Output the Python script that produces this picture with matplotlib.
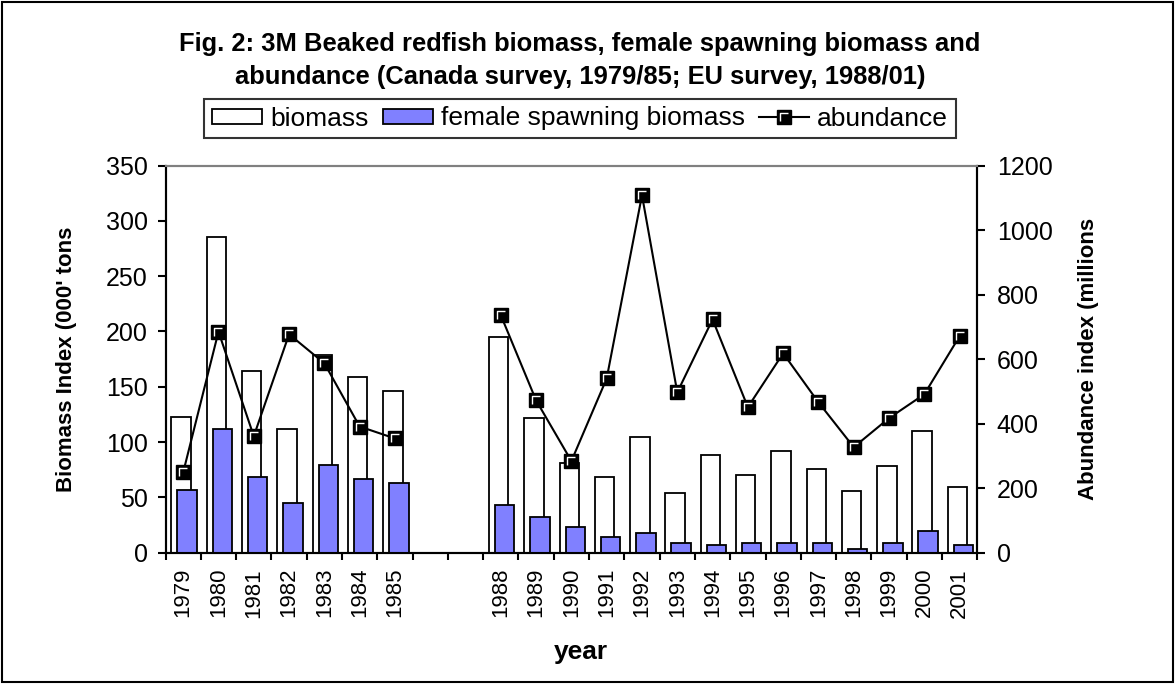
import numpy as np
import matplotlib.pyplot as plt
from matplotlib.path import Path
from matplotlib.patches import Rectangle
from matplotlib.ticker import FixedLocator

plt.rcParams['font.family'] = ['Liberation Sans', 'DejaVu Sans']

# survey years (1986/87 not surveyed -> empty slots)
years = ["1979", "1980", "1981", "1982", "1983", "1984", "1985", "", "",
         "1988", "1989", "1990", "1991", "1992", "1993", "1994", "1995",
         "1996", "1997", "1998", "1999", "2000", "2001"]
biomass = [123, 285, 164, 112, 179, 159, 146, None, None,
           195, 122, 81, 68, 105, 54, 88, 70, 92, 76, 56, 78, 110, 59]
ssb = [57, 112, 68, 45, 79, 67, 63, None, None,
       43, 32, 23, 14, 18, 9, 7, 9, 9, 9, 3, 9, 20, 7]
abundance = [249, 685, 361, 677, 587, 391, 354, None, None,
             736, 472, 284, 540, 1108, 497, 723, 451, 618, 466, 327, 417, 491, 671]

def arr(v):
    return np.array([np.nan if a is None else a for a in v], dtype=float)

x = np.arange(len(years))
blue = "#8080FF"

fig = plt.figure(figsize=(11.75, 6.84), dpi=100)
ax = fig.add_axes([0.1409, 0.1920, 0.6908, 0.5660])

ax.bar(x - 0.06, arr(biomass), width=0.55, color="white", edgecolor="black",
       linewidth=1.3, label="biomass", zorder=2)
ax.bar(x + 0.11, arr(ssb), width=0.55, color=blue, edgecolor="black",
       linewidth=1.3, label="female spawning biomass", zorder=3)

ax.set_xlim(-0.5, len(years) - 0.5)
ax.set_ylim(0, 350)
ax.set_yticks(np.arange(0, 351, 50))
ax.set_xticks(x)
ax.set_xticklabels(years, rotation=90, fontsize=16)
ax.xaxis.set_minor_locator(FixedLocator(np.arange(-0.5, len(years), 1.0)))
ax.tick_params(axis="x", which="major", length=0, pad=11)
ax.tick_params(axis="x", which="minor", length=5, width=1.5, direction="out")
ax.tick_params(axis="y", length=6, width=1.5, labelsize=18, pad=7)
ax.set_ylabel("Biomass Index (000' tons", fontsize=16, fontweight="bold")
ax.yaxis.set_label_coords(-0.109, 0.5)

ax2 = ax.twinx()
ax2.set_ylim(0, 1200)
ax2.set_yticks(np.arange(0, 1201, 200))
ax2.tick_params(axis="y", length=6, width=1.5, labelsize=18, pad=8)
ax2.set_ylabel("Abundance index (millions", fontsize=16, fontweight="bold")
ax2.yaxis.set_label_coords(1.124, 0.5)

ab = arr(abundance)
ln, = ax2.plot(x, ab, color="black", linewidth=1.5, marker="s",
               markersize=9.5, markerfacecolor="black",
               markeredgecolor="black", markeredgewidth=1.0)
gamma = Path([(-1, -1), (-1, 1), (1, 1)], [Path.MOVETO, Path.LINETO, Path.LINETO])
hl, = ax2.plot(x, ab, linestyle="none", marker=gamma, markersize=5.5,
               markerfacecolor="none", markeredgecolor="white",
               markeredgewidth=1.0)

for a in (ax, ax2):
    for s in ("left", "right", "bottom"):
        a.spines[s].set_linewidth(1.5)
    a.spines["top"].set_color("#808080")
    a.spines["top"].set_linewidth(1.5)

h1, l1 = ax.get_legend_handles_labels()
leg = fig.legend(h1 + [(ln, hl)], l1 + ["abundance"], loc="center",
                 bbox_to_anchor=(580 / 1175, 1 - 118.5 / 684), ncol=3,
                 fontsize=19, frameon=True, fancybox=False, numpoints=1,
                 handlelength=1.9, handleheight=0.5, handletextpad=0.3,
                 columnspacing=0.55, borderpad=0.3, borderaxespad=0)
leg.get_frame().set_edgecolor("black")
leg.get_frame().set_linewidth(1.5)

fig.text(580 / 1175, 1 - 60.5 / 684,
         "Fig. 2: 3M Beaked redfish biomass, female spawning biomass and\n"
         "abundance (Canada survey, 1979/85; EU survey, 1988/01)",
         ha="center", va="center", fontsize=18.4, fontweight="bold",
         linespacing=1.5)
fig.text(581 / 1175, 1 - 652 / 684, "year", ha="center", va="center",
         fontsize=19, fontweight="bold")

fig.patches.append(Rectangle((0.002, 0.003), 0.996, 0.994, transform=fig.transFigure,
                             fill=False, edgecolor="black", linewidth=1.5))

fig.savefig("out.png", dpi=100)
